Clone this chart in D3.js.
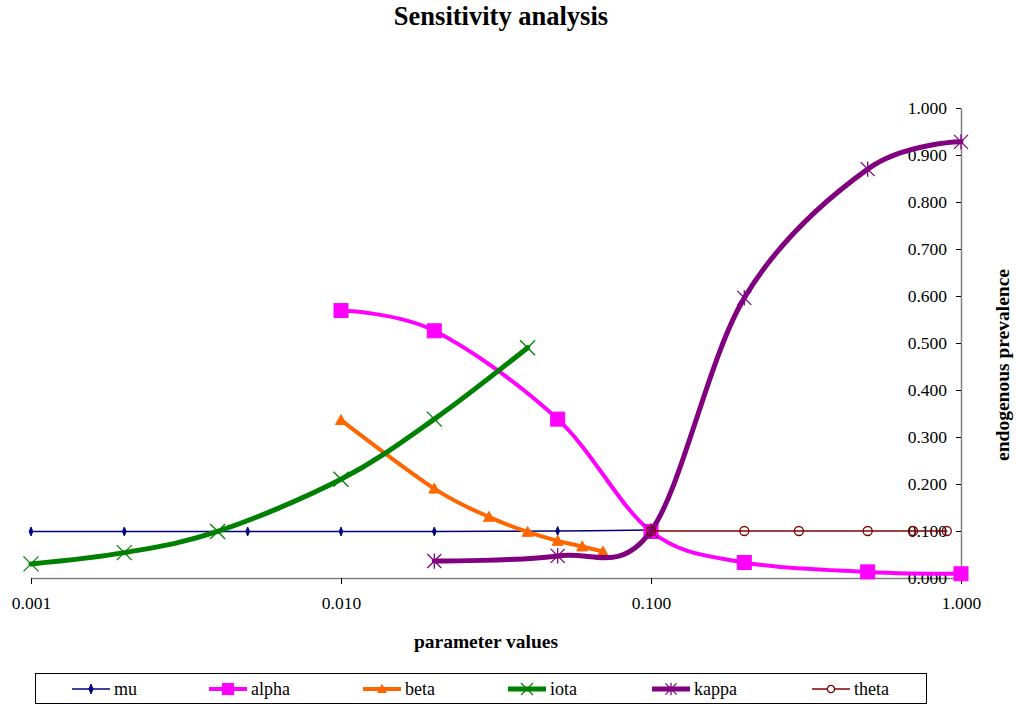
<!DOCTYPE html>
<html>
<head>
<meta charset="utf-8">
<script src="https://cdn.jsdelivr.net/npm/d3@7"></script>
<style>
  body { margin: 0; background: #fff; }
  svg text { font-family: 'Liberation Serif', 'DejaVu Serif', serif; }
</style>
</head>
<body>
<div id="chart"></div>
<script>
// data
const muX = [0.001, 0.002, 0.005, 0.01, 0.02, 0.05, 0.1]
const muY = [0.099, 0.099, 0.099, 0.099, 0.099, 0.100, 0.102]
const alphaX = [0.01, 0.02, 0.05, 0.1, 0.2, 0.5, 1.0]
const alphaY = [0.569, 0.526, 0.338, 0.099, 0.033, 0.013, 0.009]
const betaX = [0.01, 0.02, 0.03, 0.04, 0.05, 0.06, 0.07]
const betaY = [0.336, 0.190, 0.130, 0.098, 0.079, 0.067, 0.056]
const iotaX = [0.001, 0.002, 0.004, 0.01, 0.02, 0.04]
const iotaY = [0.030, 0.054, 0.099, 0.210, 0.338, 0.490]
const kappaX = [0.02, 0.05, 0.1, 0.2, 0.5, 1.0]
const kappaY = [0.036, 0.047, 0.100, 0.596, 0.870, 0.928]
const thetaX = [0.1, 0.2, 0.3, 0.5, 0.7, 0.9]
const thetaY = [0.100, 0.100, 0.100, 0.100, 0.100, 0.100]
const xTicks = [0.001, 0.01, 0.1, 1]
const yTicks = [0, 0.1, 0.2, 0.3, 0.4, 0.5, 0.6, 0.7, 0.8, 0.9, 1.0]

const W = 1016
const H = 706
const plot = { left: 31, right: 961, top: 108, bottom: 578 }
const serif = "'Liberation Serif', 'DejaVu Serif', serif"

const svg = d3.select('#chart').append('svg')
  .attr('width', W)
  .attr('height', H)

const x = d3.scaleLog().domain([0.001, 1]).range([plot.left, plot.right])
const y = d3.scaleLinear().domain([0, 1]).range([plot.bottom, plot.top])

// axes
const xAxis = svg.append('g')
  .attr('transform', `translate(0,${plot.bottom})`)
  .call(d3.axisBottom(x).tickValues(xTicks).tickFormat(d3.format('.3f')).tickSize(6).tickSizeOuter(0).tickPadding(13))
xAxis.select('.domain').attr('stroke', '#808080').attr('stroke-width', 1.5)
xAxis.selectAll('.tick line').attr('stroke', '#000')
xAxis.selectAll('text').attr('fill', '#000').attr('font-family', serif).attr('font-size', 17.5)

const yAxis = svg.append('g')
  .attr('transform', `translate(${plot.right},0)`)
  .call(d3.axisLeft(y).tickValues(yTicks).tickFormat(d3.format('.3f')).tickSize(5).tickSizeOuter(0).tickPadding(9))
yAxis.select('.domain').attr('stroke', '#808080').attr('stroke-width', 1.5)
yAxis.selectAll('.tick line').attr('stroke', '#000')
yAxis.selectAll('text').attr('fill', '#000').attr('font-family', serif).attr('font-size', 17.5)

// titles
svg.append('text')
  .attr('x', 501).attr('y', 25)
  .attr('text-anchor', 'middle')
  .attr('font-family', serif)
  .attr('font-size', 26.5).attr('font-weight', 'bold')
  .text('Sensitivity analysis')

svg.append('text')
  .attr('x', 486).attr('y', 648)
  .attr('text-anchor', 'middle')
  .attr('font-family', serif)
  .attr('font-size', 19.5).attr('font-weight', 'bold')
  .text('parameter values')

svg.append('text')
  .attr('transform', 'translate(1009,365) rotate(-90)')
  .attr('text-anchor', 'middle')
  .attr('font-family', serif)
  .attr('font-size', 19.5).attr('font-weight', 'bold')
  .text('endogenous prevalence')

// marker shapes
const markers = {
  diamond: (g, s) => g.append('path').attr('d', `M0,${-s}L${s * 0.4},0L0,${s}L${-s * 0.4},0Z`),
  square: (g, s) => g.append('rect').attr('x', -s).attr('y', -s).attr('width', 2 * s).attr('height', 2 * s),
  triangle: (g, s) => g.append('path').attr('d', `M0,${-s}L${s},${s * 0.8}L${-s},${s * 0.8}Z`),
  cross: (g, s) => g.append('path').attr('d', `M${-s},${-s}L${s},${s}M${-s},${s}L${s},${-s}`),
  star: (g, s) => g.append('path').attr('d', `M${-s},${-s}L${s},${s}M${-s},${s}L${s},${-s}M0,${-s * 1.1}L0,${s * 1.1}`),
  circle: (g, s) => g.append('circle').attr('r', s)
}

const series = [
  { name: 'mu', xs: muX, ys: muY, color: '#000080', width: 1.5, marker: 'diamond', size: 4.5, filled: true, mw: 1 },
  { name: 'alpha', xs: alphaX, ys: alphaY, color: '#ff00ff', width: 4, marker: 'square', size: 7, filled: true, mw: 1 },
  { name: 'beta', xs: betaX, ys: betaY, color: '#ff6600', width: 4, marker: 'triangle', size: 5.5, filled: true, mw: 1 },
  { name: 'iota', xs: iotaX, ys: iotaY, color: '#008000', width: 5, marker: 'cross', size: 7.5, filled: false, mw: 1.3 },
  { name: 'kappa', xs: kappaX, ys: kappaY, color: '#800080', width: 5, marker: 'star', size: 7, filled: false, mw: 1.3 },
  { name: 'theta', xs: thetaX, ys: thetaY, color: '#800000', width: 1.5, marker: 'circle', size: 4.5, filled: false, mw: 1.3 }
]

const line = d3.line()
  .x(d => x(d[0]))
  .y(d => y(d[1]))
  .curve(d3.curveCardinal.tension(0))

const drawMarker = (g, s, size, bg) => {
  markers[s.marker](g, size)
    .attr('stroke', s.color)
    .attr('stroke-width', s.mw)
    .attr('fill', s.filled ? s.color : (bg || 'none'))
}

series.forEach(s => {
  const pts = s.xs.map((v, i) => [v, s.ys[i]])
  svg.append('path')
    .datum(pts)
    .attr('d', line)
    .attr('fill', 'none')
    .attr('stroke', s.color)
    .attr('stroke-width', s.width)
    .attr('stroke-linejoin', 'round')
    .attr('stroke-linecap', 'round')
  pts.forEach(p => {
    const g = svg.append('g').attr('transform', `translate(${x(p[0])},${y(p[1])})`)
    drawMarker(g, s, s.size)
  })
})

// legend
const legendX = [72, 209, 363, 508, 652, 812]
const legend = svg.append('g')
legend.append('rect')
  .attr('x', 35.5).attr('y', 673.5)
  .attr('width', 891).attr('height', 30)
  .attr('fill', '#fff')
  .attr('stroke', '#000')
  .attr('stroke-width', 1)

series.forEach((s, i) => {
  const lx = legendX[i]
  const ly = 689
  legend.append('line')
    .attr('x1', lx).attr('x2', lx + 38)
    .attr('y1', ly).attr('y2', ly)
    .attr('stroke', s.color)
    .attr('stroke-width', s.width)
  const g = legend.append('g').attr('transform', `translate(${lx + 19},${ly})`)
  drawMarker(g, s, s.marker === 'diamond' ? 5 : s.size * 0.8, s.marker === 'circle' ? '#fff' : null)
  legend.append('text')
    .attr('x', lx + 42).attr('y', ly + 6)
    .attr('font-family', serif)
    .attr('font-size', 18)
    .text(s.name)
})
</script>
</body>
</html>
